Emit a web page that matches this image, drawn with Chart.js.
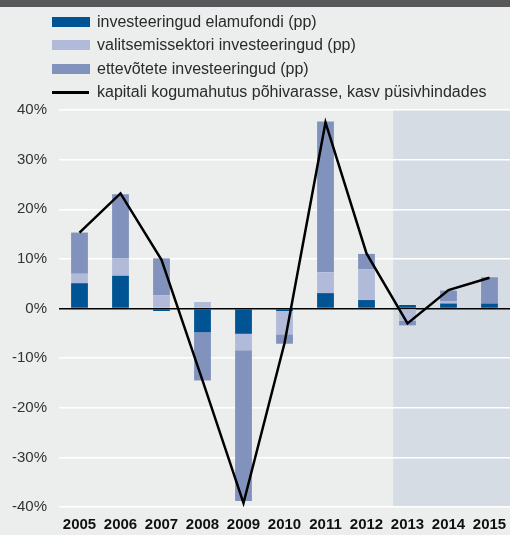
<!DOCTYPE html>
<html>
<head>
<meta charset="utf-8">
<script src="https://cdn.jsdelivr.net/npm/chart.js@4"></script>
<style>
  html, body { margin: 0; padding: 0; background: #eceeed; }
  #wrap { position: relative; width: 510px; height: 535px; overflow: hidden; }
  #topbar { position: absolute; left: 0; top: 0; width: 510px; height: 7px; background: #58585a; }
  #legend { position: absolute; left: 52px; top: 10px; font-family: "Liberation Sans", Arial, sans-serif; font-size: 16px; color: #2a2a2a; }
  .row { height: 23.5px; display: flex; align-items: center; }
  .sw { width: 38px; height: 10px; margin-right: 7px; }
  .ln { width: 37px; height: 2.5px; background: #000; margin-right: 8px; }
  #cv { position: absolute; left: 0; top: 0; }
</style>
</head>
<body>
<div id="wrap">
  <div id="topbar"></div>
  <canvas id="cv" width="510" height="535"></canvas>
  <div id="legend"></div>
</div>
<script>
const years = ['2005', '2006', '2007', '2008', '2009', '2010', '2011', '2012', '2013', '2014', '2015'];
const housing = [5.1, 6.6, -0.5, -4.8, -5.1, -0.5, 3.1, 1.7, 0.7, 1.0, 1.0];
const government = [1.9, 3.5, 2.7, 1.3, -3.3, -4.7, 4.2, 6.2, -2.5, 0.5, 0.0];
const business = [8.3, 12.9, 7.4, -9.7, -30.4, -1.9, 30.4, 3.1, -0.9, 2.1, 5.3];
const capitalGrowth = [15.3, 23.2, 9.8, -14.5, -39.2, -7.0, 37.5, 11.1, -3.0, 3.7, 6.2];
const yTicks = [-40, -30, -20, -10, 0, 10, 20, 30, 40];

const labels = [
    'investeeringud elamufondi (pp)',
    'valitsemissektori investeeringud (pp)',
    'ettevõtete investeeringud (pp)',
    'kapitali kogumahutus põhivarasse, kasv püsivhindades'
];
const colors = ['#005493', '#b1bbd9', '#8192bd'];

// legend as html, one item per row
const legendEl = document.getElementById('legend');
labels.forEach((txt, i) => {
    const row = document.createElement('div');
    row.className = 'row';
    const mark = document.createElement('div');
    if (i < 3) {
        mark.className = 'sw';
        mark.style.background = colors[i];
    } else {
        mark.className = 'ln';
    }
    const span = document.createElement('span');
    span.textContent = txt;
    row.appendChild(mark);
    row.appendChild(span);
    legendEl.appendChild(row);
});

// forecast shading (2013-2015) drawn under the grid
const forecastShade = {
    id: 'forecastShade',
    beforeDraw(chart) {
        const { ctx, chartArea, scales } = chart;
        const x0 = scales.x.getPixelForValue(7.65);
        ctx.save();
        ctx.fillStyle = '#d5dce4';
        ctx.fillRect(x0, chartArea.top, chart.width - x0, chartArea.bottom - chartArea.top);
        ctx.restore();
    }
};

new Chart(document.getElementById('cv').getContext('2d'), {
    type: 'bar',
    data: {
        labels: years,
        datasets: [
            {
                type: 'line',
                label: labels[3],
                data: capitalGrowth,
                borderColor: '#000',
                borderWidth: 2.5,
                pointRadius: 0,
                tension: 0,
                stack: 'line',
                order: 0
            },
            {
                label: labels[0],
                data: housing,
                backgroundColor: colors[0],
                stack: 'inv',
                order: 1
            },
            {
                label: labels[1],
                data: government,
                backgroundColor: colors[1],
                stack: 'inv',
                order: 2
            },
            {
                label: labels[2],
                data: business,
                backgroundColor: colors[2],
                stack: 'inv',
                order: 3
            }
        ]
    },
    options: {
        responsive: false,
        animation: false,
        layout: { padding: { top: 110, right: 0, bottom: -8, left: 0 } },
        datasets: {
            bar: { barPercentage: 0.41, categoryPercentage: 1 }
        },
        plugins: {
            legend: { display: false },
            tooltip: { enabled: false }
        },
        scales: {
            x: {
                stacked: true,
                afterFit: axis => { axis.paddingLeft = 0; axis.paddingRight = 0; },
                grid: { display: false, drawTicks: false },
                border: { display: false },
                ticks: {
                    color: '#111',
                    padding: 9,
                    font: { family: 'Liberation Sans', size: 15, weight: 'bold' }
                }
            },
            y: {
                stacked: true,
                min: -40,
                max: 40,
                afterBuildTicks: axis => { axis.ticks = yTicks.map(v => ({ value: v })); },
                afterFit: axis => { axis.width = 59; },
                grid: {
                    color: ctx => ctx.tick && ctx.tick.value === 0 ? '#000' : '#ffffff',
                    lineWidth: 1.5,
                    drawTicks: false
                },
                border: { display: false },
                ticks: {
                    color: '#333',
                    padding: 12,
                    font: { family: 'Liberation Sans', size: 15 },
                    callback: v => v + '%'
                }
            }
        }
    },
    plugins: [forecastShade]
});
</script>
</body>
</html>
